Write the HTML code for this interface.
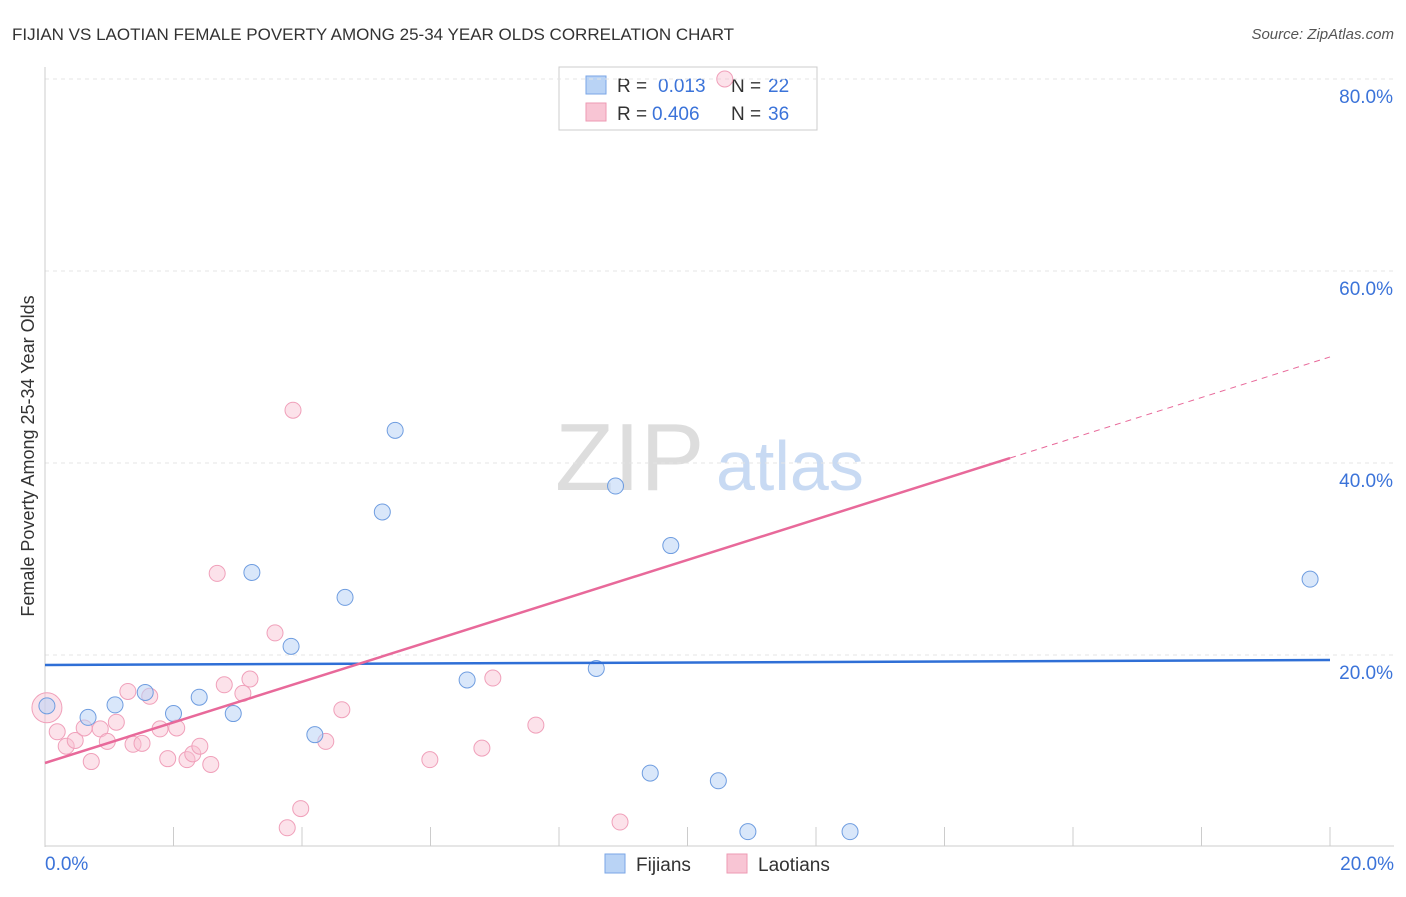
<!DOCTYPE html>
<html><head><meta charset="utf-8"><style>
body{margin:0;background:#fff;font-family:"Liberation Sans",sans-serif}
svg text{font-family:"Liberation Sans",sans-serif}
</style></head><body>
<svg id="chart" width="1406" height="892">
<text x="12" y="40" font-size="17" fill="#333">FIJIAN VS LAOTIAN FEMALE POVERTY AMONG 25-34 YEAR OLDS CORRELATION CHART</text>
<text x="1394" y="39" font-size="15" fill="#555" text-anchor="end" font-style="italic">Source: ZipAtlas.com</text>
<text transform="translate(34,456) rotate(-90)" font-size="18" fill="#333" text-anchor="middle">Female Poverty Among 25-34 Year Olds</text>
<text x="555" y="490" font-size="96" fill="#ddd" font-family="Liberation Serif">ZIP</text>
<text x="716" y="490" font-size="70" fill="#c8daf3">atlas</text>
<g>
<rect x="559" y="67" width="258" height="63" fill="#fff" stroke="#ccc"/>
<rect x="586" y="76" width="20" height="18" fill="#b9d3f5" stroke="#7aa6e6"/>
<text x="617" y="92" font-size="19" fill="#333">R = </text><text x="658" y="92" font-size="19" fill="#3b73d9">0.013</text>
<text x="731" y="92" font-size="19" fill="#333">N = </text><text x="768" y="92" font-size="19" fill="#3b73d9">22</text>
<rect x="586" y="103" width="20" height="18" fill="#f8c5d4" stroke="#ee9ab3"/>
<text x="617" y="120" font-size="19" fill="#333">R = </text><text x="652" y="120" font-size="19" fill="#3b73d9">0.406</text>
<text x="731" y="120" font-size="19" fill="#333">N = </text><text x="768" y="120" font-size="19" fill="#3b73d9">36</text>
</g>
<g id="grid"></g><g id="marks"></g>
<g>
<rect x="605" y="854" width="20" height="19" fill="#b9d3f5" stroke="#7aa6e6"/>
<text x="636" y="871" font-size="19" fill="#333">Fijians</text>
<rect x="727" y="854" width="20" height="19" fill="#f8c5d4" stroke="#ee9ab3"/>
<text x="758" y="871" font-size="19" fill="#333">Laotians</text>
</g>
</svg>
<script>
const yTicks=[20,40,60,80];
const xTickLabels=["0.0%","20.0%"];
const fijX=[0.03,0.67,1.09,1.56,2.0,2.4,2.93,3.22,3.83,4.2,4.67,5.25,5.45,6.57,8.58,8.88,9.42,9.74,10.48,10.94,12.53,19.69];
const fijY=[14.7,13.5,14.8,16.1,13.9,15.6,13.9,28.6,20.9,11.7,26.0,34.9,43.4,17.4,18.6,37.6,7.7,31.4,6.9,1.6,1.6,27.9];
const laoX=[0.03,0.19,0.33,0.47,0.61,0.72,0.86,0.97,1.11,1.29,1.37,1.51,1.63,1.79,1.91,2.05,2.21,2.30,2.41,2.58,2.68,2.79,3.08,3.19,3.58,3.77,3.86,3.98,4.37,4.62,5.99,6.80,6.97,7.64,8.95,10.58];
const laoY=[14.5,12.0,10.5,11.1,12.4,8.9,12.3,11.0,13.0,16.2,10.7,10.8,15.7,12.3,9.2,12.4,9.1,9.7,10.5,8.6,28.5,16.9,16.0,17.5,22.3,2.0,45.5,4.0,11.0,14.3,9.1,10.3,17.6,12.7,2.6,80.0];
const fijTrend=[18.96,19.48];
const laoTrend=[8.75,51.05];
const xs=v=>45+v*64.25, ys=v=>847-v*9.6;
const NS="http://www.w3.org/2000/svg";
const g=document.getElementById('grid'), m=document.getElementById('marks');
function mk(p,tag,at){const e=document.createElementNS(NS,tag);for(const k in at)e.setAttribute(k,at[k]);p.appendChild(e);return e;}
yTicks.forEach(t=>{
const l=mk(g,'line',{x1:45,x2:1394,y1:ys(t),y2:ys(t),stroke:'#e4e4e4','stroke-dasharray':'4,4'});


const tx=mk(g,'text',{x:1393,y:ys(t)+24,'font-size':19,fill:'#3b73d9','text-anchor':'end'});tx.textContent=t+'.0%';


});
mk(g,'line',{x1:45,x2:45,y1:67,y2:847,stroke:'#ccc'});
mk(g,'line',{x1:45,x2:1394,y1:846,y2:846,stroke:'#ccc'});
for(let i=0;i<=10;i++){const t=mk(g,'line',{x1:xs(i*2),x2:xs(i*2),y1:827,y2:846,stroke:'#ccc'});

}
[[xTickLabels[0],45,'start'],[xTickLabels[1],1394,'end']].forEach(a=>{const t=mk(g,'text',{x:a[1],y:870,'font-size':19,fill:'#3b73d9','text-anchor':a[2]});t.textContent=a[0];

});
laoX.forEach((x,i)=>{const c=mk(m,'circle',{cx:xs(x),cy:ys(laoY[i]),r:i==0?15:8,fill:'rgba(248,190,208,0.45)',stroke:'#f0a0ba','stroke-width':1});

});
fijX.forEach((x,i)=>{const c=mk(m,'circle',{cx:xs(x),cy:ys(fijY[i]),r:8,fill:'rgba(185,211,245,0.55)',stroke:'#6f9de0','stroke-width':1});

});
const bl=mk(m,'line',{x1:xs(0),y1:ys(fijTrend[0]),x2:xs(20),y2:ys(fijTrend[1]),stroke:'#2f6fd6','stroke-width':2.5});


const xe=15.02, ye=laoTrend[0]+(laoTrend[1]-laoTrend[0])*xe/20;
const pl=mk(m,'line',{x1:xs(0),y1:ys(laoTrend[0]),x2:xs(xe),y2:ys(ye),stroke:'#e8699a','stroke-width':2.5});


const pd=mk(m,'line',{x1:xs(xe),y1:ys(ye),x2:xs(20),y2:ys(laoTrend[1]),stroke:'#e8699a','stroke-width':1,'stroke-dasharray':'6,5'});


</script>
</body></html>
